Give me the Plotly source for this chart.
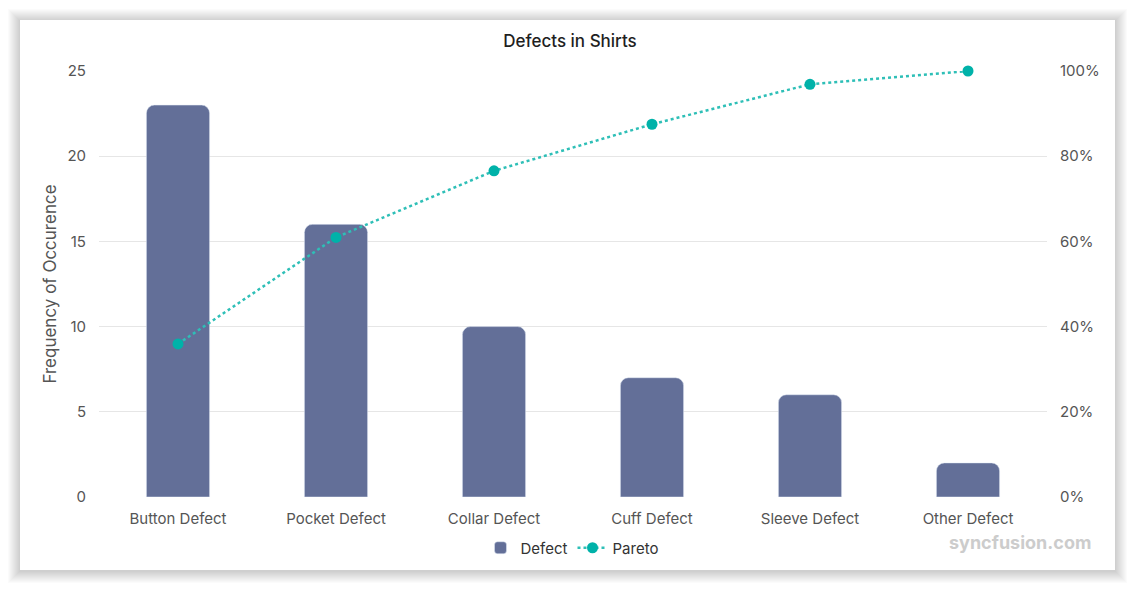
import plotly.graph_objects as go

# Defect counts per category
categories = ['Button Defect', 'Pocket Defect', 'Collar Defect',
              'Cuff Defect', 'Sleeve Defect', 'Other Defect']
counts = [23, 16, 10, 7, 6, 2]

# cumulative percentage for the pareto line
total = sum(counts)
pareto = []
running = 0
for c in counts:
    running += c
    pareto.append(running / total * 100)

# page puts the figure 8px in from the top-left (body margin)
OFF = 8
W, H = 1135, 590
L, T = 99 - OFF, 71 - OFF
pw, ph = 948, 426
R, B = W - L - pw, H - T - ph


def px_x(x):
    # screen pixel -> paper x
    return (x - OFF - L) / pw


def px_y(y):
    # screen pixel -> paper y
    return (T + ph - (y - OFF)) / ph


fig = go.Figure()
fig.add_trace(go.Bar(
    x=categories, y=counts, name='Defect',
    marker=dict(color='#636f98', cornerradius=8),
    hovertemplate='%{x}: %{y}<extra></extra>',
))
fig.add_trace(go.Scatter(
    x=categories, y=pareto, name='Pareto', yaxis='y2',
    mode='lines+markers', cliponaxis=False,
    line=dict(color='#2ebfb7', width=2.5, dash='dot'),
    marker=dict(color='#00b2a9', size=11),
    hovertemplate='%{x}: %{y:.1f}%<extra></extra>',
))

# card with a soft shadow
shapes = []
for g in range(12, 0, -1):
    shapes.append(dict(type='rect', xref='paper', yref='paper', layer='below',
                       x0=px_x(20 - g), x1=px_x(1115 + g),
                       y0=px_y(571 + g), y1=px_y(21 - g),
                       fillcolor='rgba(0,0,0,0.014)', line_width=0))
shapes.append(dict(type='rect', xref='paper', yref='paper', layer='below',
                   x0=px_x(20), x1=px_x(1115), y0=px_y(570), y1=px_y(20),
                   fillcolor='white', line_width=0))

fig.update_layout(
    width=W, height=H,
    margin=dict(l=L, r=R, t=T, b=B),
    paper_bgcolor='white', plot_bgcolor='rgba(0,0,0,0)',
    font=dict(family='Inter, Roboto, sans-serif', size=15, color='#555555'),
    title=dict(text='Defects in Shirts', x=px_x(570), xanchor='center', xref='paper',
               y=1 - (41 - OFF) / H, yanchor='middle',
               font=dict(size=17, color='#1f1f1f', weight=500)),
    bargap=0.6,
    shapes=shapes,
    showlegend=True,
    legend=dict(orientation='h', x=px_x(572), xanchor='center', y=px_y(548), yanchor='middle',
                font=dict(size=15, color='#333333'), itemwidth=30),
    xaxis=dict(showgrid=False, showline=False, ticks='', ticklabelstandoff=11,
               tickfont=dict(size=15, color='#555555')),
    yaxis=dict(range=[0, 25], dtick=5, showgrid=True, gridcolor='#e6e6e6',
               zeroline=False, showline=False, ticks='', ticklabelstandoff=12,
               title=dict(text='Frequency of Occurence', standoff=6,
                          font=dict(size=17, color='#555555'))),
    yaxis2=dict(range=[0, 100], dtick=20, overlaying='y', side='right',
                showgrid=False, zeroline=False, ticksuffix='%', ticks='',
                ticklabelstandoff=12),
    annotations=[dict(text='<b>syncfusion.com</b>', xref='paper', yref='paper',
                      x=px_x(1020), y=px_y(542), xanchor='center', yanchor='middle',
                      showarrow=False,
                      font=dict(size=18, color='#cccccc'))],
)

fig.write_html('out.html')
